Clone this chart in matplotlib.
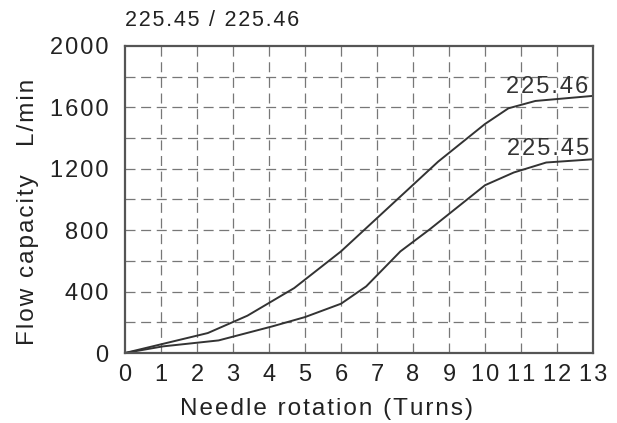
import matplotlib.pyplot as plt
import numpy as np

plt.rcParams['font.family'] = ['Liberation Sans', 'DejaVu Sans']

# flow capacity curves, L/min vs needle turns
turns_46 = [0, 2.3, 3.4, 4.7, 6.0, 7.2, 8.7, 10.0, 10.65, 11.4, 13.0]
flow_46 = [0, 130, 243, 423, 662, 922, 1247, 1492, 1594, 1642, 1675]
turns_45 = [0, 1.05, 2.6, 4.1, 5.0, 6.0, 6.7, 7.65, 8.45, 10.0, 10.8, 11.7, 13.0]
flow_45 = [0, 43, 82, 174, 234, 321, 434, 662, 803, 1093, 1176, 1241, 1262]

x_ticks = list(range(0, 14))
y_ticks = [0, 400, 800, 1200, 1600, 2000]

line_col = "#333333"
grid_col = "#777777"
text_col = "#222222"


def spaced(s, gap="\u200a"):
    # fake letter spacing
    return gap.join(s)


fig = plt.figure(figsize=(6.17, 4.23), dpi=100)
ax = fig.add_axes([125/617, 1 - 353/423, 468/617, 307/423])

ax.plot(turns_46, flow_46, color=line_col, lw=1.4)
ax.plot(turns_45, flow_45, color=line_col, lw=1.4)

ax.set_xlim(0, 13)
ax.set_ylim(0, 2000)
ax.set_xticks(x_ticks)
ax.set_xticklabels([spaced(str(t)) for t in x_ticks])
ax.set_yticks(y_ticks)
ax.set_yticklabels([spaced(str(t)) for t in y_ticks])
ax.tick_params(length=0, labelsize=17, labelcolor=text_col)
ax.tick_params(axis='x', pad=8)
ax.tick_params(axis='y', pad=12)

for v in range(1, 13):
    ax.axvline(v, color=grid_col, lw=0.9, dashes=(8, 4.5), zorder=0)
for v in range(200, 2000, 200):
    ax.axhline(v, color=grid_col, lw=0.9, dashes=(8, 4.5), zorder=0)

for sp in ax.spines.values():
    sp.set_color("#555555")
    sp.set_linewidth(1.6)

ax.text(12.88, 1694, spaced("225.46"), ha="right", va="baseline",
        fontsize=17, color=line_col)
ax.text(12.88, 1290, spaced("225.45"), ha="right", va="baseline",
        fontsize=17, color=line_col)

fig.text(327/617, 1 - 409/423, spaced("Needle rotation (Turns)"),
         ha="center", va="center", fontsize=17.5, color=text_col)
fig.text(28/617, 1 - 212/423, spaced("Flow capacity   L/min"), rotation=90,
         ha="center", va="center", fontsize=17.5, color=text_col)
fig.text(125/617, 1 - 20/423, spaced("225.45 / 225.46"), ha="left",
         va="center", fontsize=15.5, color=text_col)

fig.savefig("out.png", dpi=100)
